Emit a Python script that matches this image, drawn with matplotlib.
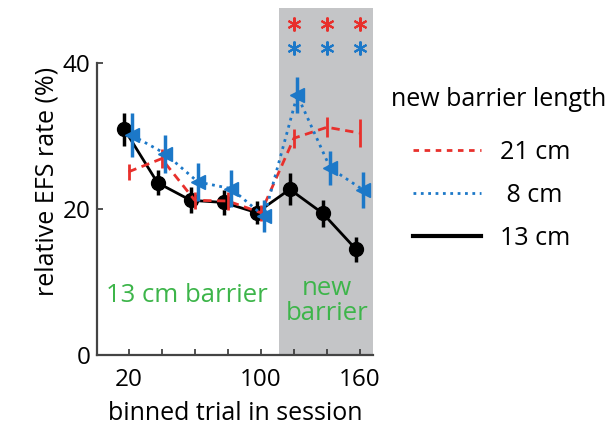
import numpy as np
import matplotlib.pyplot as plt
from matplotlib.lines import Line2D

plt.rcParams['font.family'] = ['Open Sans', 'DejaVu Sans']

trials = np.array([20, 40, 60, 80, 100, 120, 140, 160])

# new barrier 13 cm (control)
mean_13 = [30.9, 23.6, 21.2, 20.9, 19.5, 22.7, 19.4, 14.5]
err_13 = [2.3, 1.7, 1.8, 1.7, 1.6, 2.2, 1.9, 1.7]

# new barrier 21 cm
mean_21 = [25.1, 26.9, 21.2, 21.1, 19.5, 29.7, 31.2, 30.4]
err_21 = [1.1, 1.3, 1.2, 1.2, 1.1, 1.3, 1.4, 1.9]

# new barrier 8 cm
mean_8 = [30.1, 27.6, 23.7, 22.8, 19.0, 35.6, 25.6, 22.6]
err_8 = [3.0, 2.6, 2.6, 2.5, 2.2, 2.5, 2.3, 2.5]

sig_trials = [120, 140, 160]

red = '#e8302c'
blue = '#1c78c8'
green = '#3db54a'

fig = plt.figure(figsize=(6.15, 4.32), dpi=100)
ax = fig.add_axes([0.158, 0.178, 0.449, 0.803])

ax.axvspan(111, 168, color='#c4c5c7', lw=0, zorder=0)

ax.errorbar(trials - 2.5, mean_13, yerr=err_13, color='black', lw=2,
            marker='o', ms=10, elinewidth=2.5, capsize=0, zorder=3)
ax.errorbar(trials, mean_21, yerr=err_21, color=red, lw=2, ls=(0, (3, 2)),
            elinewidth=2, capsize=0, zorder=4)
ax.errorbar(trials + 2, mean_8, yerr=err_8, color=blue, lw=2, ls=':',
            marker='<', ms=10, elinewidth=2.5, capsize=0, zorder=5)

ax.plot(sig_trials, [45.3] * 3, ls='none', marker=(6, 2, 0), ms=10, mew=1.5, color=red)
ax.plot(sig_trials, [42.0] * 3, ls='none', marker=(6, 2, 0), ms=10, mew=1.5, color=blue)

ax.text(55.5, 8.2, '13 cm barrier', color=green, fontsize=18.5,
        ha='center', va='center')
ax.text(140, 7.4, 'new\nbarrier', color=green, fontsize=18.5,
        ha='center', va='center', linespacing=1.0)

ax.set_xlim(1, 168)
ax.set_ylim(0, 47.5)
ax.set_yticks([0, 20, 40])
ax.set_xticks(trials)
ax.set_xticklabels(['20', '', '', '', '100', '', '', '160'])
ax.tick_params(direction='in', length=4, width=1.2, labelsize=17.5, colors='#333333',
               labelcolor='black', pad=5)
ax.tick_params(axis='x', pad=9)
ax.spines['top'].set_visible(False)
ax.spines['right'].set_visible(False)
ax.spines['left'].set_bounds(0, 40)
for s in ('left', 'bottom'):
    ax.spines[s].set_linewidth(1.6)
    ax.spines[s].set_color('#444444')

ax.set_xlabel('binned trial in session', fontsize=18, labelpad=7)
ax.set_ylabel('relative EFS rate (%)', fontsize=18, labelpad=2)

fig.text(499 / 615, 1 - 100 / 432, 'new barrier length', fontsize=18,
         ha='center', va='center')
handles = [Line2D([], [], color=red, lw=2, ls=(0, (2, 2))),
           Line2D([], [], color=blue, lw=2, ls=':'),
           Line2D([], [], color='black', lw=3)]
labels = ['21 cm', ' 8 cm', '13 cm']
leg = fig.legend(handles, labels, frameon=False, loc='upper left',
                 bbox_to_anchor=(413 / 615, 1 - 140 / 432), borderpad=0,
                 borderaxespad=0, fontsize=18, handlelength=2.7,
                 handletextpad=0.8, labelspacing=0.72)

fig.savefig('out.png', dpi=100)
